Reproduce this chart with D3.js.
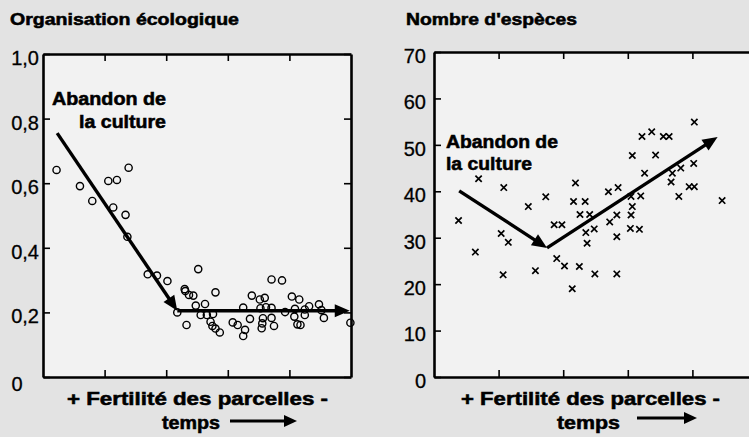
<!DOCTYPE html>
<html>
<head>
<meta charset="utf-8">
<script src="https://cdn.jsdelivr.net/npm/d3@7"></script>
<style>
body { margin: 0; background: #e3e3e3; }
svg { display: block; font-family: "Liberation Sans", Arial, Helvetica, sans-serif; }
</style>
</head>
<body>
<div id="chart"></div>
<script>
// valeurs (x : position le long du gradient, 0-5)
const xTicks = [1, 2, 3, 4];

const orgTicks = [0, 0.2, 0.4, 0.6, 0.8, 1.0];
const orgTickLabels = ["0", "0,2", "0,4", "0,6", "0,8", "1,0"];

const especesTicks = [0, 10, 20, 30, 40, 50, 60, 70];
const especesTickLabels = ["0", "10", "20", "30", "40", "50", "60", "70"];

const orgPoints = [
    [0.22, 0.641], [0.60, 0.591], [0.80, 0.545], [1.06, 0.607], [1.20, 0.610],
    [1.39, 0.648], [1.14, 0.525], [1.34, 0.502], [1.37, 0.434], [1.70, 0.318],
    [1.85, 0.314], [2.02, 0.297], [2.52, 0.334], [2.30, 0.272], [3.71, 0.302],
    [3.88, 0.299], [2.31, 0.266], [2.37, 0.254], [2.44, 0.252], [2.48, 0.221],
    [2.63, 0.226], [2.80, 0.262], [2.18, 0.200], [2.56, 0.192], [2.66, 0.192],
    [2.76, 0.195], [2.33, 0.161], [2.72, 0.171], [2.75, 0.158], [2.80, 0.150],
    [2.87, 0.138], [3.08, 0.169], [3.16, 0.161], [3.25, 0.127], [3.28, 0.146],
    [3.25, 0.215], [3.39, 0.252], [3.36, 0.180], [3.52, 0.240], [3.60, 0.245],
    [3.53, 0.213], [3.62, 0.216], [3.71, 0.214], [3.57, 0.182], [3.56, 0.166],
    [3.55, 0.151], [3.71, 0.183], [3.75, 0.158], [3.93, 0.201], [4.04, 0.249],
    [4.16, 0.240], [4.09, 0.211], [4.08, 0.187], [4.13, 0.163], [4.18, 0.161],
    [4.25, 0.209], [4.32, 0.219], [4.25, 0.192], [4.48, 0.225], [4.52, 0.207],
    [4.56, 0.183], [4.99, 0.168]
];

const especesPoints = [
    [0.38, 33.7], [0.64, 26.9], [0.69, 42.7], [1.04, 30.9], [1.15, 29.0],
    [1.07, 22.0], [1.08, 40.8], [1.46, 36.7], [1.57, 22.9], [1.73, 38.8],
    [1.86, 32.8], [1.98, 32.8], [1.90, 25.5], [2.02, 23.9], [2.25, 23.8],
    [2.14, 19.0], [2.19, 41.8], [2.16, 37.8], [2.34, 37.8], [2.26, 35.0],
    [2.41, 35.0], [2.35, 31.1], [2.37, 28.8], [2.48, 31.9], [2.49, 22.2],
    [2.83, 22.2], [2.70, 39.9], [2.85, 40.8], [2.72, 33.4], [2.83, 34.9],
    [2.83, 30.2], [3.07, 47.7], [3.22, 51.8], [3.37, 52.8], [3.43, 47.8],
    [3.55, 51.8], [3.64, 51.8], [4.03, 54.9], [4.02, 46.0], [3.26, 43.9],
    [3.69, 43.9], [3.82, 45.0], [3.67, 42.0], [3.95, 41.0], [4.03, 41.0],
    [3.79, 38.9], [4.46, 38.0], [3.07, 36.7], [3.05, 34.9], [3.04, 32.0],
    [3.18, 31.8], [3.05, 38.9], [3.20, 39.0]
];

// flèches de tendance
const orgArrows = [
    [[0.23, 0.755], [2.18, 0.205]],
    [[2.18, 0.205], [4.98, 0.205]]
];
const especesArrows = [
    [[0.39, 40.1], [1.75, 27.8]],
    [[1.75, 27.8], [4.39, 51.7]]
];

const svg = d3.select("#chart")
    .append("svg")
    .attr("width", 749)
    .attr("height", 437);

// trait épais terminé par une pointe pleine
function arrow(g, p0, p1, width, headLen, headW) {
    const dx = p1[0] - p0[0], dy = p1[1] - p0[1];
    const len = Math.sqrt(dx * dx + dy * dy);
    const ux = dx / len, uy = dy / len;
    const bx = p1[0] - ux * headLen, by = p1[1] - uy * headLen;
    g.append("line")
        .attr("x1", p0[0]).attr("y1", p0[1])
        .attr("x2", bx + ux * 2).attr("y2", by + uy * 2)
        .attr("stroke", "#000")
        .attr("stroke-width", width);
    g.append("path")
        .attr("d", d3.line()([
            [p1[0], p1[1]],
            [bx - uy * headW, by + ux * headW],
            [bx + uy * headW, by - ux * headW]
        ]) + "Z")
        .attr("fill", "#000");
}

const crossSymbol = {
    draw(ctx, size) {
        const r = Math.sqrt(size) / 2;
        ctx.moveTo(-r, -r); ctx.lineTo(r, r);
        ctx.moveTo(-r, r); ctx.lineTo(r, -r);
    }
};

// texte gras, un peu épaissi comme sur le scan
function boldText(g, t, x, y, size, w, anchor) {
    g.append("text")
        .attr("x", x).attr("y", y)
        .attr("text-anchor", anchor || "start")
        .attr("font-size", size).attr("font-weight", "bold")
        .attr("fill", "#000")
        .attr("stroke", "#000").attr("stroke-width", 0.55)
        .attr("textLength", w).attr("lengthAdjust", "spacingAndGlyphs")
        .text(t);
}

function panel(cfg) {
    const x = d3.scaleLinear().domain([0, 5]).range(cfg.xRange);
    const y = d3.scaleLinear().domain(cfg.yDomain).range(cfg.yRange);
    const g = svg.append("g");

    g.append("rect")
        .attr("x", cfg.xRange[0]).attr("y", cfg.yRange[1])
        .attr("width", cfg.xRange[1] - cfg.xRange[0])
        .attr("height", cfg.yRange[0] - cfg.yRange[1])
        .attr("fill", "#f2f2f2");

    const left = g.append("g")
        .attr("transform", `translate(${cfg.xRange[0]},0)`)
        .call(d3.axisLeft(y).tickValues(cfg.yTicks)
            .tickFormat((d, i) => cfg.yLabels[i])
            .tickSizeInner(-7).tickSizeOuter(0).tickPadding(cfg.labelPad));
    left.selectAll("text")
        .attr("font-size", 20)
        .attr("font-family", "Liberation Sans, Arial, sans-serif")
        .attr("fill", "#000")
        .attr("stroke", "#000").attr("stroke-width", 0.3)
        .attr("dy", "0.52em");
    if (cfg.zeroShift) {
        left.selectAll(".tick").filter(d => d === 0).select("text")
            .attr("text-anchor", "middle")
            .attr("x", cfg.zeroShift)
            .attr("dy", "0.66em");
    }

    g.append("g")
        .attr("transform", `translate(${cfg.xRange[1]},0)`)
        .call(d3.axisRight(y).tickValues(cfg.yTicks).tickFormat("")
            .tickSizeInner(-7).tickSizeOuter(0));
    g.append("g")
        .attr("transform", `translate(0,${cfg.yRange[1]})`)
        .call(d3.axisTop(x).tickValues(xTicks).tickFormat("")
            .tickSizeInner(-7).tickSizeOuter(0));
    g.append("g")
        .attr("transform", `translate(0,${cfg.yRange[0]})`)
        .call(d3.axisBottom(x).tickValues(xTicks).tickFormat("")
            .tickSizeInner(-7).tickSizeOuter(0));

    g.selectAll(".domain").attr("stroke", "#000").attr("stroke-width", 2.6);
    g.selectAll(".tick line").attr("stroke", "#000").attr("stroke-width", 1.6);

    if (cfg.marker === "circle") {
        g.selectAll("circle.pt")
            .data(cfg.points)
            .join("circle")
            .attr("class", "pt")
            .attr("cx", d => x(d[0]))
            .attr("cy", d => y(d[1]))
            .attr("r", 3.6)
            .attr("fill", "none")
            .attr("stroke", "#000")
            .attr("stroke-width", 1.4);
    } else {
        g.selectAll("path.pt")
            .data(cfg.points)
            .join("path")
            .attr("class", "pt")
            .attr("d", d3.symbol(crossSymbol, 40)())
            .attr("transform", d => `translate(${x(d[0])},${y(d[1])})`)
            .attr("fill", "none")
            .attr("stroke", "#000")
            .attr("stroke-width", 1.7);
    }

    cfg.arrows.forEach(a => {
        arrow(g, [x(a[0][0]), y(a[0][1])], [x(a[1][0]), y(a[1][1])], 3.4, 15, 6.5);
    });

    boldText(g, cfg.title.text, cfg.title.x, 25, 16.5, cfg.title.w);
    cfg.notes.forEach(n => boldText(g, n.text, n.x, n.y, 18, n.w, n.anchor));
    boldText(g, "+ Fertilité des parcelles -", cfg.xLabel.x, 405, 18.5, cfg.xLabel.w);
    boldText(g, "temps", cfg.temps.x, 429, 18.5, cfg.temps.w);
    arrow(g, [cfg.temps.a0, cfg.temps.ay], [cfg.temps.a1, cfg.temps.ay], 3, 13, 6);
}

panel({
    xRange: [43, 351],
    yRange: [377, 54],
    yDomain: [0, 1],
    yTicks: orgTicks,
    yLabels: orgTickLabels,
    labelPad: 4,
    zeroShift: -26,
    marker: "circle",
    points: orgPoints,
    arrows: orgArrows,
    title: { text: "Organisation écologique", x: 10, w: 229 },
    notes: [
        { text: "Abandon de", x: 166, y: 105, anchor: "end", w: 114 },
        { text: "la culture", x: 166, y: 128, anchor: "end", w: 87 }
    ],
    xLabel: { x: 67, w: 261 },
    temps: { x: 162, w: 58, a0: 230, a1: 297, ay: 421 }
});

panel({
    xRange: [434, 757],
    yRange: [377, 52],
    yDomain: [0, 70],
    yTicks: especesTicks,
    yLabels: especesTickLabels,
    labelPad: 8,
    zeroShift: null,
    marker: "cross",
    points: especesPoints,
    arrows: especesArrows,
    title: { text: "Nombre d'espèces", x: 406, w: 171 },
    notes: [
        { text: "Abandon de", x: 446, y: 148, anchor: "start", w: 112 },
        { text: "la culture", x: 446, y: 170, anchor: "start", w: 86 }
    ],
    xLabel: { x: 461, w: 259 },
    temps: { x: 557, w: 63, a0: 637, a1: 697, ay: 418 }
});
</script>
</body>
</html>
